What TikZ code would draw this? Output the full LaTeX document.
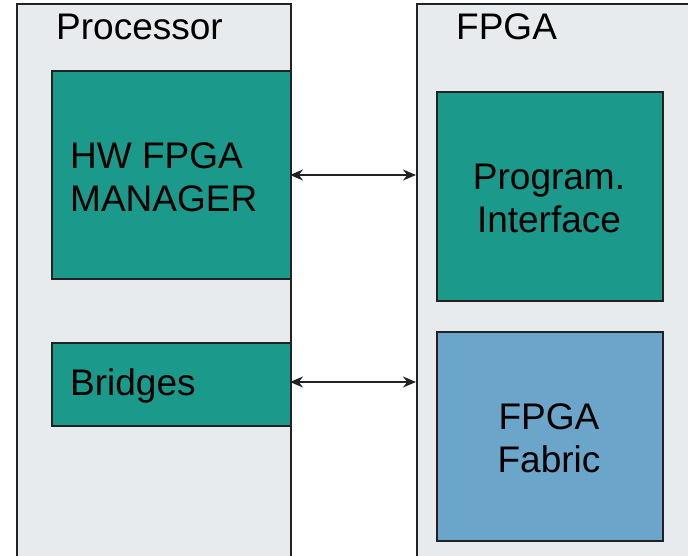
\documentclass[tikz,border=0pt]{standalone}
\usepackage{fontspec}
\setmainfont{Liberation Sans}
\usetikzlibrary{arrows.meta}
\definecolor{panelgrey}{HTML}{E8EBED}
\definecolor{tealbox}{HTML}{1B998A}
\definecolor{bluebox}{HTML}{6BA5C9}
\definecolor{edge}{HTML}{222222}
\tikzset{
  panel/.style={draw=edge, line width=2pt, fill=panelgrey, anchor=north west, inner sep=0pt},
  block/.style={draw=edge, line width=1.6pt, anchor=north west, inner sep=0pt},
  title/.style={anchor=base west, inner sep=0pt, font=\fontsize{37}{43}\selectfont},
  boxtext/.style={inner sep=0pt, font=\fontsize{37}{43}\selectfont},
  link/.style={draw=edge, line width=2pt, {Stealth[length=13pt,width=11pt]}-{Stealth[length=13pt,width=11pt]}}
}
\begin{document}
\begin{tikzpicture}[x=1pt,y=-1pt]
\useasboundingbox (0,0) rectangle (688,556);
\clip (0,0) rectangle (688,556);
\fill[white] (0,0) rectangle (688,556);
% panels
\node[panel, minimum width=274pt, minimum height=580pt] (proc) at (16,3) {};
\node[panel, minimum width=300pt, minimum height=580pt] (fpga) at (416,3) {};
\node[title] (proctitle) at (56,40) {Processor};
\node[title] (fpgatitle) at (456,40) {FPGA};
% blocks
\node[block, fill=tealbox, minimum width=239pt, minimum height=208pt] (hw) at (51,70) {};
\node[block, fill=tealbox, minimum width=239pt, minimum height=83pt] (br) at (51,342) {};
\node[block, fill=tealbox, minimum width=226pt, minimum height=209pt] (pi) at (436,91) {};
\node[block, fill=bluebox, minimum width=226pt, minimum height=209pt] (fab) at (436,331) {};
% texts
\node[boxtext, align=left, anchor=west] (hwtext) at (70,177) {HW FPGA\\MANAGER};
\node[boxtext, anchor=west] (brtext) at (70,386) {Bridges};
\node[boxtext, align=center] (pitext) at (549,198) {Program.\\Interface};
\node[boxtext, align=center] (fabtext) at (549,438) {FPGA\\Fabric};
% connectors
\coordinate (a1) at (416,175);
\coordinate (a2) at (416,382);
\coordinate (h1) at (290,175);
\coordinate (b1) at (290,382);
\draw[link] (h1) -- (a1);
\draw[link] (b1) -- (a2);
\end{tikzpicture}
\end{document}
